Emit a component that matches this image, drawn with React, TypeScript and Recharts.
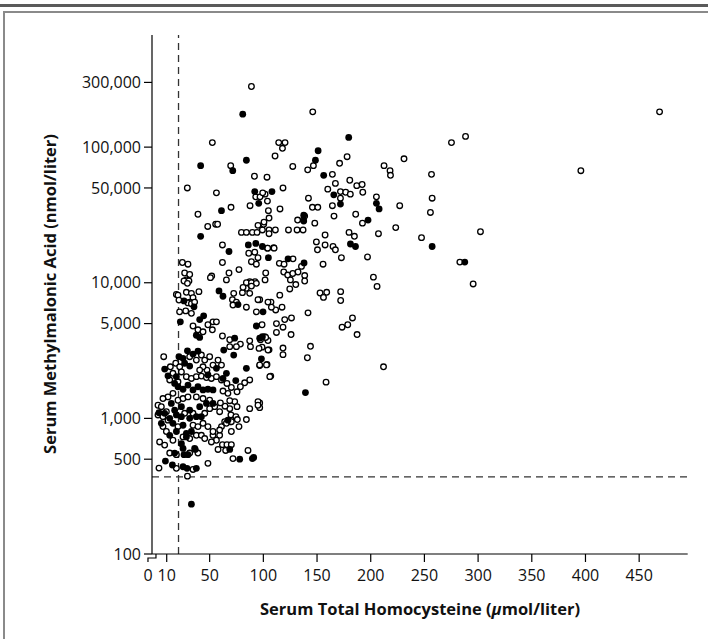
import React from 'react';
import { ScatterChart, Scatter, XAxis, YAxis, ReferenceLine, Label } from 'recharts';

// x: serum total homocysteine (umol/liter), y: serum methylmalonic acid (nmol/liter)
const xTicks = [0, 10, 50, 100, 150, 200, 250, 300, 350, 400, 450];
const yTicks = [100, 500, 1000, 5000, 10000, 50000, 100000, 300000];
const homocysteineCutoff = 21;
const mmaCutoff = 370;

const openPoints: [number, number][] = [
  [88.9, 280000], [52.5, 108000], [69.6, 73000], [91.7, 61000], [103.4, 60000], [29.2, 50000],
  [56.3, 46000], [87.6, 37000], [69.9, 36000], [39.1, 32000], [55.6, 27000], [57.4, 27000],
  [48.2, 26000], [79.6, 23500], [84.2, 23500], [61.9, 19000], [92.9, 43000], [101.6, 45000],
  [96.9, 43000], [103.8, 40000], [99.4, 46000],
  [146, 182000], [178, 85000], [171, 76000], [146.6, 73000], [141.3, 68000], [127.4, 72000],
  [164.3, 63000], [167.1, 54000], [180.5, 57000], [212.4, 73000], [218, 67000], [218.4, 62000],
  [231, 82000], [160, 49000], [171.8, 47000], [176.7, 46500], [181, 45000], [187, 52000],
  [192, 53000], [192.6, 46500], [171.8, 42000], [164.3, 37000], [142, 42000], [145.7, 36000],
  [150.7, 36000], [205.3, 43000], [227, 37000], [118.3, 50000], [115.5, 35000], [104.7, 34000],
  [138.5, 31000], [131.9, 29000], [137.3, 29000], [131.4, 24500], [137, 24500], [147.9, 27500],
  [165.8, 31000], [186, 32000], [192.3, 27500], [223.3, 25500], [207.2, 23000], [179.8, 23500],
  [184.8, 22000], [157.5, 22500], [123.4, 24500], [149.4, 20000], [157.5, 19000], [164.9, 18500],
  [167.1, 17500], [172.7, 15300], [150.4, 17500], [247.3, 21500], [114.3, 108000], [120.2, 108000],
  [117.8, 98000], [110.9, 86000], [89.8, 23500], [94.1, 23500], [99.1, 24500], [105.3, 24500],
  [111.2, 24500], [100.3, 27000], [95, 26500], [105.3, 30000], [103.8, 18000], [109.7, 18100],
  [256.6, 63000], [257.2, 42000], [255.6, 33000], [197, 15500], [202.5, 11000], [205.9, 9400],
  [155.6, 13700], [114.9, 13900], [119.3, 13700], [135.5, 13200], [138.5, 11300], [138.5, 10300],
  [119, 12000], [122.7, 11400], [127.4, 11700], [132.3, 12000], [125.2, 10500], [124.6, 9000],
  [130.2, 9700], [127.6, 15000], [102.2, 11800], [104, 18000], [110, 18000], [152.8, 8400],
  [159, 8500], [156, 7800], [172, 8600], [172, 7400], [141.6, 6000], [115.3, 8100], [107.1, 7200],
  [111.5, 6300], [117.4, 6600], [107.5, 6600], [96.6, 7500], [183, 5500], [178.6, 4900],
  [173.3, 4700], [187.3, 4150], [119.9, 5350], [126.2, 5500], [112.2, 5000], [118.3, 4700],
  [112.2, 4300], [125.8, 4150], [98.8, 4900], [101.3, 4000], [104.3, 3750], [105.3, 3200],
  [98.8, 3350], [118.3, 3300], [118.3, 2950], [143.9, 3400], [141, 2800], [103.4, 2500],
  [96.6, 2450], [106.9, 2050], [158.4, 1850], [211.9, 2400], [96.6, 1300], [96.6, 1200],
  [100.6, 28000], [105.3, 23000],
  [469, 182000], [275.2, 108000], [288.3, 120000], [395.7, 67000], [302.2, 23800], [283, 14200],
  [295.4, 9800],
  [86.4, 16500], [92, 16800], [95, 15300], [88.9, 14300], [93.5, 13700], [61.9, 14100],
  [68, 11800], [65.6, 10500], [77.3, 12500], [51.9, 11200], [50.7, 10900], [101.6, 10500],
  [87.3, 10200], [92.2, 10200], [84.2, 10000], [88.9, 10000], [93.5, 9900],
  [24.6, 14100], [29.8, 13700], [26.7, 11800], [31.4, 11500], [28.3, 10500], [26.1, 10300],
  [30.7, 10300], [29.3, 9900], [19, 8200], [20.5, 8100], [28.3, 8500], [33, 8350], [34.5, 7750],
  [31.4, 7200], [40, 8600], [21.4, 7450], [29.8, 7100], [33, 7000], [36, 7200], [22, 6100],
  [27.7, 6200], [33, 5950], [72.4, 8350], [71.2, 7500], [74.9, 7200], [80.5, 8450], [87.3, 8350],
  [84.2, 9100], [88.9, 9450], [81.1, 9250], [71.7, 6850], [95, 7500], [84.2, 6600], [93.5, 6100],
  [104.3, 7200], [34.5, 4800], [39.1, 4500], [43.8, 4350], [48.4, 4900], [53.1, 5150],
  [56.3, 5150], [52.5, 4500], [61.9, 4050], [68.7, 3800], [78.6, 3530], [87.3, 3730], [88, 3380],
  [97.3, 3800], [102.2, 3950], [104.3, 3190], [96, 3280], [68.7, 3380], [74.9, 3380],
  [96.6, 2480], [102.9, 2480], [106, 2030], [87.3, 1920], [82.6, 1830], [78.6, 1710], [75.5, 1570],
  [70.2, 1690], [66.1, 1810], [67, 1530], [62.4, 1590], [73.3, 1330], [68.7, 1350], [75.5, 1220],
  [68.7, 1180], [64.3, 1230], [60, 1300], [59.3, 1120], [54.7, 1220], [69.8, 1060], [74.4, 1030],
  [61, 870], [64, 945], [69.3, 945], [75.8, 980], [84.2, 980], [95, 1330], [95, 1250], [87.3, 1180],
  [77.3, 870], [70.2, 800], [59.3, 750], [53.1, 750], [56.3, 690], [61.9, 640], [66.1, 640],
  [70.2, 640], [57.8, 590], [64.9, 580], [85.7, 580], [71.7, 505],
  [7.2, 2850], [13.4, 2400], [18.4, 2550], [22.1, 2400], [15.8, 2150], [23.7, 2200], [12.8, 1920],
  [20.5, 1860], [31.4, 2850], [37.6, 2690], [42.3, 2930], [45.4, 2690], [50, 2850], [53.1, 2470],
  [57.8, 2690], [61, 2470], [47.5, 2270], [43.8, 2400], [40.7, 2270], [28.3, 2030], [33, 1970],
  [37.6, 2030], [42.3, 2050], [47, 2000], [51.6, 1970], [56.3, 2030], [61, 1920], [15.8, 1530],
  [11.2, 1440], [6.5, 1400], [20.5, 1360], [25.2, 1400], [29.8, 1440], [37.6, 1440], [43.8, 1400],
  [50, 1360], [1.9, 1250], [5, 1220], [9.7, 1120], [1.9, 1060], [6.5, 1030], [11.2, 970],
  [26.7, 1090], [34.5, 1090], [45.4, 1090], [50, 1180], [6.5, 870], [9.7, 800], [20.5, 870],
  [34.5, 890], [39.1, 870], [43.8, 920], [48.4, 870], [53.1, 800], [59.3, 820], [65.6, 920],
  [70.2, 945], [3.4, 670], [8.1, 635], [15.8, 690], [25.2, 730], [31.4, 710], [37.6, 750],
  [42.3, 750], [45.4, 710], [51.6, 670], [12.8, 555], [19, 540], [31.4, 555], [39.1, 555],
  [48.4, 466], [2.8, 430], [19, 428], [34.5, 420], [29.3, 375],
];

const filledPoints: [number, number][] = [
  [80.8, 175000], [84.2, 80000], [41.6, 73000], [71.5, 67000], [92, 47000], [95.7, 38500],
  [61, 34000], [41.6, 22000], [68, 17000], [86, 19000], [179.5, 118000], [151, 94000],
  [148.5, 80000], [156.2, 62000], [165.6, 44500], [171.8, 38000], [205.3, 38500], [207.8, 35000],
  [108, 47000], [137.6, 31500], [137.6, 28500], [197.5, 29000], [181.1, 19300], [185.8, 18500],
  [93, 19500], [257.2, 18500], [123, 15000], [137.9, 14000], [104.7, 15300], [99.1, 18500],
  [99.7, 6100], [99.1, 4000], [98.2, 2750], [139.2, 1550], [287.6, 14200],
  [26.1, 7350], [35.4, 6650], [22.7, 5150], [58.7, 8700], [62.4, 7950], [76.4, 6900],
  [40.7, 5350], [44.4, 5700], [37.6, 4100], [40.7, 3950], [93.5, 4800], [96.6, 3900], [73.3, 3900],
  [63.1, 3190], [72.4, 2930], [84.2, 2340], [74.3, 1900], [67, 970], [68.7, 590], [78, 500],
  [91, 515], [89.8, 505],
  [8.1, 2310], [11.2, 2060], [17.4, 1810], [19, 2030], [21.4, 2850], [25.2, 2770], [29.3, 3150],
  [34.5, 2980], [31.4, 2430], [26.7, 2550], [39.1, 3130], [56.3, 2340], [48.4, 2090], [62.4, 1970],
  [65.6, 2150], [20.5, 1710], [25.2, 1640], [29.8, 1760], [34.5, 1620], [39.1, 1710], [43.8, 1620],
  [48.4, 1640], [53.1, 1620], [14.3, 1290], [23.7, 1220], [17.4, 1150], [31.4, 1150], [40.7, 1220],
  [47, 1290], [53.1, 1290], [2.8, 1100], [8.1, 1090], [12.8, 1000], [19, 1060], [23.7, 1030],
  [31.4, 1000], [37.6, 1030], [42.3, 1030], [5, 920], [15.8, 920], [25.2, 890], [33, 800],
  [19, 800], [12.8, 750], [28.3, 775], [23.7, 650], [25.2, 600], [29.8, 540], [36, 600],
  [28.3, 730], [17.4, 555], [26.1, 540], [36.6, 590], [8.8, 484], [15.3, 453], [25.2, 440],
  [28.9, 428], [37.6, 428], [33, 233],
];

const FONT = '"Open Sans", "Noto Sans", sans-serif';

const toData = (pts: [number, number][]) => pts.map(([x, y]) => ({ x, y }));

const OpenDot = (props: any) => (
  <circle cx={props.cx} cy={props.cy} r={2.8} fill="#fff" stroke="#000" strokeWidth={1.3} />
);
const FilledDot = (props: any) => (
  <circle cx={props.cx} cy={props.cy} r={3.4} fill="#000" />
);

const XTick = (props: any) => {
  const { x, y, payload } = props;
  const v = payload.value;
  const lx = v === 0 ? x - 8 : x;
  return (
    <g>
      {v === 0 ? (
        <path d={`M${x - 8},${y + 8}V${y + 4}H${x}V${y}`} fill="none" stroke="#000" strokeWidth={1.2} />
      ) : (
        <line x1={x} x2={x} y1={y} y2={y + 8} stroke="#000" strokeWidth={1.2} />
      )}
      <text x={lx} y={y + 27} textAnchor="middle" fontSize={16} fontFamily={FONT} fill="#111">
        {v}
      </text>
    </g>
  );
};

const YTitle = () => (
  <text
    x={49}
    y={294}
    transform="rotate(-90 49 294)"
    textAnchor="middle"
    dominantBaseline="central"
    fontSize={16.5}
    fontWeight={700}
    fontFamily={FONT}
    fill="#111"
  >
    Serum Methylmalonic Acid (nmol/liter)
  </text>
);

const XTitle = () => (
  <text x={420} y={615} textAnchor="middle" fontSize={16.5} fontWeight={700} fontFamily={FONT} fill="#111">
    Serum Total Homocysteine (<tspan fontStyle="italic">µ</tspan>mol/liter)
  </text>
);

export default function App() {
  return (
    <div style={{ position: 'absolute', left: 0, top: 0, width: 708, height: 639, overflow: 'hidden', background: '#fff' }}>
      <div style={{ position: 'absolute', left: 0, top: 4, width: 708, height: 3, background: '#5a5a5a' }} />
      <div
        style={{
          position: 'absolute',
          left: 3,
          top: 11,
          width: 720,
          height: 640,
          borderLeft: '2px solid #8a8a8a',
          borderTop: '2px solid #8a8a8a',
        }}
      />
      <div style={{ position: 'absolute', left: 0, top: 0 }}>
        <ScatterChart width={708} height={639} margin={{ top: 35, right: 20.3, bottom: 0, left: 0 }}>
          <XAxis
            type="number"
            dataKey="x"
            domain={[-3.7, 495.2]}
            allowDataOverflow
            ticks={xTicks}
            interval={0}
            tick={XTick}
            tickLine={false}
            tickSize={0}
            tickMargin={0}
            height={85}
            axisLine={{ stroke: '#000', strokeWidth: 1.2 }}
          >
            <Label content={XTitle} />
          </XAxis>
          <YAxis
            type="number"
            dataKey="y"
            scale="log"
            domain={[100, 671000]}
            allowDataOverflow
            ticks={yTicks}
            interval={0}
            width={152}
            tickSize={8}
            tickMargin={3}
            tickFormatter={(v: number) => v.toLocaleString('en-US')}
            tick={{ fill: '#111', fontSize: 16, fontFamily: FONT }}
            tickLine={{ stroke: '#000', strokeWidth: 1.2 }}
            axisLine={{ stroke: '#000', strokeWidth: 1.2 }}
          >
            <Label content={YTitle} />
          </YAxis>
          <ReferenceLine x={homocysteineCutoff} stroke="#333" strokeWidth={1.3} strokeDasharray="7 5" />
          <ReferenceLine y={mmaCutoff} stroke="#333" strokeWidth={1.3} strokeDasharray="7 5" />
          <Scatter data={toData(openPoints)} shape={OpenDot} isAnimationActive={false} />
          <Scatter data={toData(filledPoints)} shape={FilledDot} isAnimationActive={false} />
        </ScatterChart>
      </div>
    </div>
  );
}
